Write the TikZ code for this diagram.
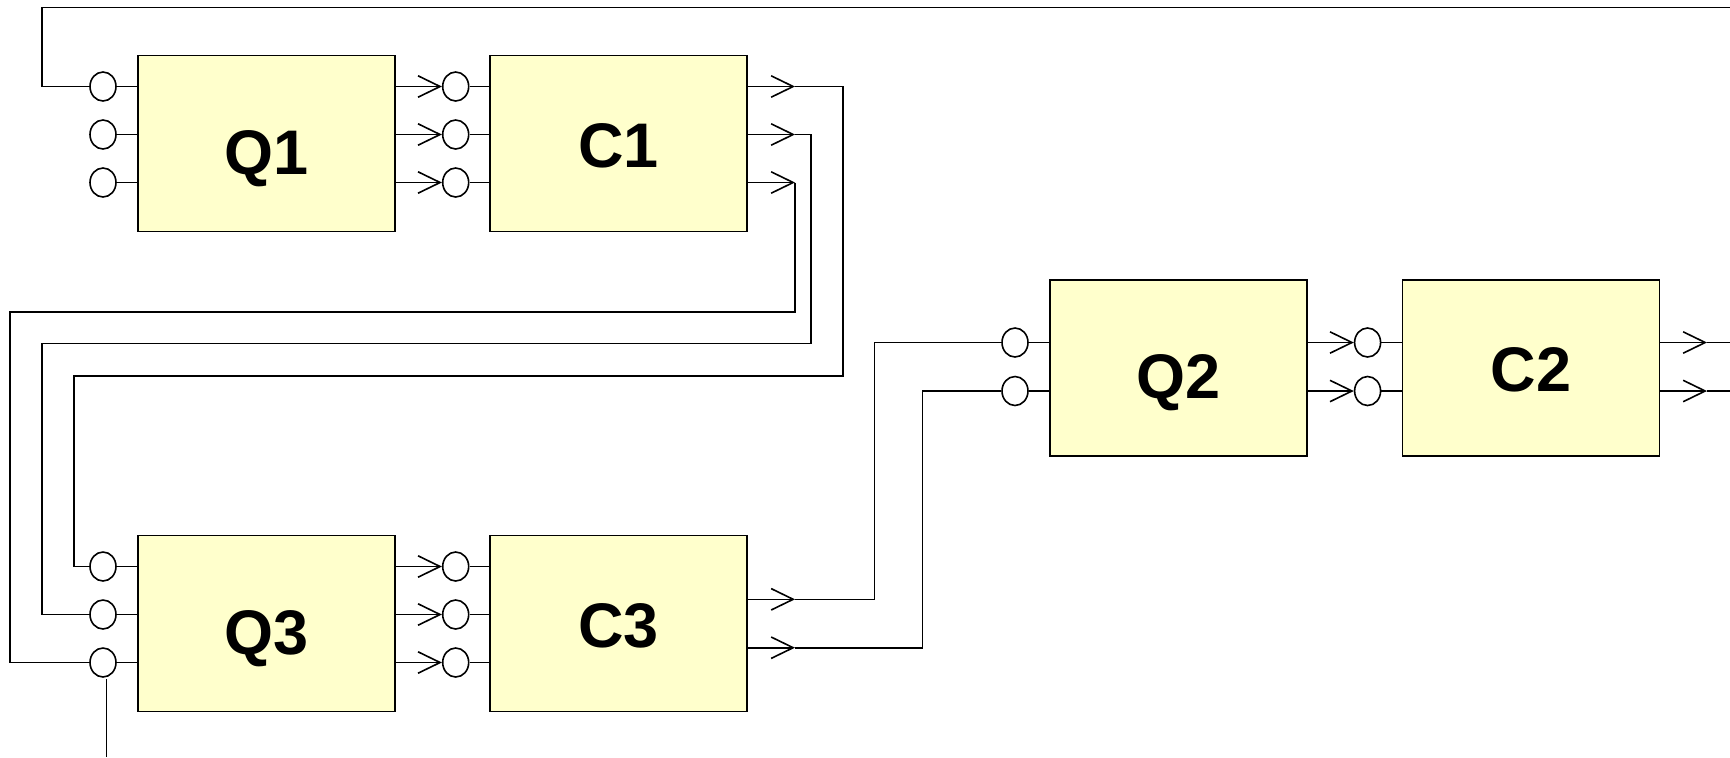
\documentclass[tikz,border=0pt]{standalone}
\usepackage{fontspec}
\setmainfont{Liberation Sans}
\usetikzlibrary{arrows.meta,shapes.geometric}
\definecolor{boxfill}{RGB}{255,255,204}
\tikzset{
  wire/.style={line width=0.8pt, line join=miter},
  arr/.style={wire, -{Straight Barb[length=11pt,width=10.7pt,line width=0.8pt]}},
  blk/.style={draw, line width=0.8pt, fill=boxfill, minimum width=128.5pt, minimum height=88pt,
    inner sep=0pt, font=\bfseries\fontsize{31.5}{31.5}\selectfont, text depth=0pt},
  qblk/.style={blk, text height=31pt},
  cblk/.style={blk, text height=24pt},
  port/.style={draw, line width=0.8pt, fill=white, ellipse, inner sep=0pt, minimum width=13pt, minimum height=14.5pt}
}
\begin{document}
\begin{tikzpicture}[x=0.5pt, y=-0.5pt]
\useasboundingbox (0,0) rectangle (1730,757);
% blocks
\node[qblk] (Q1) at (266.5,143.5) {Q1};
\node[cblk] (C1) at (618.3,143.5) {C1};
\node[qblk] (Q3) at (266.5,623.5) {Q3};
\node[cblk] (C3) at (618.3,623.5) {C3};
\node[qblk] (Q2) at (1178.5,367.8) {Q2};
\node[cblk] (C2) at (1531,367.8) {C2};
% ports Q1
\foreach \i/\y in {1/86.5,2/134.5,3/182.5}{
  \node[port] (q1i\i) at (103,\y) {};
  \node[port] (c1i\i) at (455.7,\y) {};
  \draw[wire] (q1i\i.east) -- (q1i\i.east -| Q1.west);
  \draw[wire] (c1i\i.east) -- (c1i\i.east -| C1.west);
  \draw[arr] (c1i\i.west -| Q1.east) -- (c1i\i.west);
}
\foreach \i/\y in {1/566.5,2/614.5,3/662.5}{
  \node[port] (q3i\i) at (103,\y) {};
  \node[port] (c3i\i) at (455.7,\y) {};
  \draw[wire] (q3i\i.east) -- (q3i\i.east -| Q3.west);
  \draw[wire] (c3i\i.east) -- (c3i\i.east -| C3.west);
  \draw[arr] (c3i\i.west -| Q3.east) -- (c3i\i.west);
}
\foreach \i/\y in {1/342.5,2/391}{
  \node[port] (q2i\i) at (1015,\y) {};
  \node[port] (c2i\i) at (1367.6,\y) {};
  \draw[wire] (q2i\i.east) -- (q2i\i.east -| Q2.west);
  \draw[wire] (c2i\i.east) -- (c2i\i.east -| C2.west);
  \draw[arr] (c2i\i.west -| Q2.east) -- (c2i\i.west);
}
% C1 outputs
\coordinate (t1) at (795,86.5);
\coordinate (t2) at (795,134.5);
\coordinate (t3) at (795,182.5);
\draw[arr] (t1 -| C1.east) -- (t1);
\draw[arr] (t2 -| C1.east) -- (t2);
\draw[arr] (t3 -| C1.east) -- (t3);
\draw[wire] (t1) -| (842.7,375.7) -| (74,566.5) -- (q3i1.west);
\draw[wire] (t2) -| (810.7,343.3) -| (42,614.5) -- (q3i2.west);
\draw[wire] (t3) -- (795,311.7) -| (10,662.5) -- (q3i3.west);
% top feedback
\coordinate (topend) at (1730,7.3);
\draw[wire] (q1i1.west) -- (42,86.5) |- (topend);
% C3 outputs
\coordinate (t4) at (795,599.3);
\coordinate (t5) at (795,647.7);
\draw[arr] (t4 -| C3.east) -- (t4);
\draw[arr] (t5 -| C3.east) -- (t5);
\draw[wire] (t4) -| (874.3,342.5) -- (q2i1.west);
\draw[wire] (t5) -| (922.3,391) -- (q2i2.west);
% C2 outputs
\coordinate (t6) at (1707,342.5);
\coordinate (t7) at (1707,391);
\coordinate (e6) at (1730,342.5);
\coordinate (e7) at (1730,391);
\draw[arr] (t6 -| C2.east) -- (t6);
\draw[arr] (t7 -| C2.east) -- (t7);
\draw[wire] (t6) -- (e6);
\draw[wire] (t7) -- (e7);
% bottom line
\coordinate (b1) at (106.5,679);
\coordinate (b2) at (106.5,757);
\draw[wire] (b1) -- (b2);
\end{tikzpicture}
\end{document}
